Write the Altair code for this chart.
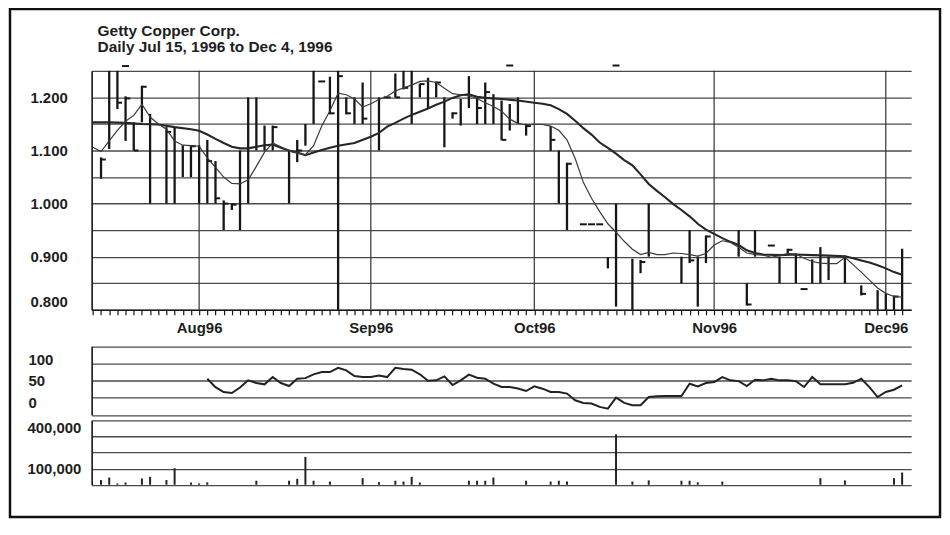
import altair as alt
import pandas as pd

# ---------------- calendar (trading days) ----------------
HOLIDAYS = ["1996-08-05", "1996-09-02", "1996-10-14"]
trading_days = [d for d in pd.bdate_range("1996-07-15", "1996-12-04")
                if d.strftime("%Y-%m-%d") not in HOLIDAYS]
N = len(trading_days)

month_start_idx = []
month_labels = []
for i, d in enumerate(trading_days):
    if i > 0 and d.month != trading_days[i - 1].month:
        month_start_idx.append(i)
        month_labels.append(d.strftime("%b%y"))

# ---------------- price bars (high / low / close) ----------------
bar_day = [1, 2, 3, 4, 5, 6, 7, 9, 10, 11, 12, 13, 14, 15, 16, 17, 18, 19, 20, 21,
           22, 24, 25, 26, 27, 29, 30, 31, 32, 33, 35, 37, 38, 39, 40, 41, 42, 43, 44, 45,
           46, 47, 48, 49, 50, 51, 52, 53, 56, 57, 58, 63, 64, 66, 67, 68, 72, 73, 74, 75,
           79, 80, 81, 84, 85, 86, 88, 89, 90, 92, 94, 96, 97, 98, 99]
bar_high = [1.087, 1.25, 1.25, 1.202, 1.153, 1.222, 1.169, 1.144, 1.144, 1.11, 1.11, 1.11, 1.12, 1.08, 1.006, 1.0, 1.10, 1.20, 1.20, 1.147,
            1.147, 1.10, 1.12, 1.15, 1.25, 1.239, 1.25, 1.20, 1.20, 1.228, 1.20, 1.245, 1.25, 1.25, 1.226, 1.237, 1.23, 1.20, 1.172, 1.197,
            1.24, 1.20, 1.228, 1.206, 1.194, 1.1875, 1.20, 1.15, 1.146, 1.10, 1.077, 0.899, 1.0, 0.896, 0.894, 1.0, 0.90, 0.95, 0.90, 0.94,
            0.95, 0.85, 0.95, 0.90, 0.915, 0.906, 0.895, 0.918, 0.90, 0.902, 0.846, 0.837, 0.83, 0.827, 0.915]
bar_low = [1.047, 1.103, 1.178, 1.118, 1.10, 1.153, 1.0, 1.0, 1.0, 1.05, 1.05, 1.0, 1.0, 1.0, 0.95, 0.988, 0.95, 1.0, 1.10, 1.10,
           1.10, 1.0, 1.078, 1.109, 1.15, 1.168, 0.80, 1.168, 1.15, 1.15, 1.10, 1.20, 1.215, 1.15, 1.20, 1.18, 1.20, 1.106, 1.16, 1.147,
           1.18, 1.15, 1.15, 1.15, 1.119, 1.1375, 1.15, 1.128, 1.099, 1.0, 0.95, 0.878, 0.806, 0.80, 0.869, 0.90, 0.85, 0.888, 0.806, 0.888,
           0.90, 0.808, 0.90, 0.85, 0.906, 0.85, 0.85, 0.85, 0.856, 0.85, 0.827, 0.80, 0.80, 0.80, 0.80]
bar_close = [1.083, None, 1.19, 1.198, 1.10, 1.22, None, 1.135, None, None, 1.108, None, 1.08, 1.01, 1.0, 0.998, None, None, None, None,
             1.144, None, 1.10, None, None, 1.17, 1.24, 1.17, None, 1.16, None, 1.20, 1.218, None, 1.225, None, 1.228, None, 1.17, None,
             None, 1.18, 1.21, None, 1.12, None, None, 1.146, 1.12, None, 1.075, None, None, None, 0.89, None, None, 0.893, None, 0.938,
             None, 0.81, None, None, 0.913, None, None, None, None, None, 0.83, None, None, 0.825, None]

# single-price days (drawn as a dash); the 1.26 ones sit just above the panel
flat_day = [4, 28, 36, 51, 60, 61, 62, 64, 83, 87]
flat_price = [1.259, 1.23, 1.20, 1.260, 0.961, 0.961, 0.961, 1.260, 0.921, 0.839]

# ---------------- moving averages ----------------
slow_day = [0, 2, 4, 6, 8, 10, 12, 13, 14, 15, 16, 17, 18, 19, 20, 21, 22, 23, 24, 25,
            26, 27, 28, 29, 30, 32, 34, 35, 36, 37, 38, 39, 40, 41, 42, 43, 44, 45, 46, 47,
            48, 50, 52, 54, 55, 56, 57, 58, 59, 60, 61, 62, 63, 64, 65, 66, 67, 68, 69, 70,
            71, 72, 73, 74, 75, 76, 77, 78, 79, 80, 81, 82, 84, 86, 88, 90, 92, 93, 94, 95,
            96, 97, 98, 99]
slow_val = [1.153, 1.153, 1.152, 1.150, 1.149, 1.144, 1.140, 1.137, 1.130, 1.122, 1.114, 1.107, 1.104, 1.104, 1.107, 1.110, 1.111, 1.105, 1.100, 1.096,
            1.091, 1.096, 1.101, 1.105, 1.109, 1.114, 1.126, 1.133, 1.145, 1.152, 1.160, 1.167, 1.173, 1.179, 1.186, 1.192, 1.199, 1.204, 1.206, 1.201,
            1.199, 1.197, 1.194, 1.190, 1.188, 1.185, 1.178, 1.169, 1.156, 1.142, 1.130, 1.115, 1.105, 1.094, 1.082, 1.072, 1.055, 1.037, 1.024, 1.012,
            0.999, 0.988, 0.976, 0.962, 0.951, 0.943, 0.935, 0.928, 0.922, 0.912, 0.907, 0.904, 0.903, 0.904, 0.903, 0.902, 0.901, 0.897, 0.893, 0.889,
            0.884, 0.878, 0.871, 0.866]

fast_day = list(range(100))
fast_val = [1.106, 1.098, 1.118, 1.138, 1.155, 1.166, 1.187, 1.163, 1.150, 1.140,
            1.118, 1.110, 1.109, 1.108, 1.086, 1.068, 1.050, 1.038, 1.037, 1.045,
            1.070, 1.097, 1.114, 1.107, 1.099, 1.095, 1.092, 1.109, 1.146, 1.175,
            1.208, 1.205, 1.197, 1.182, 1.188, 1.196, 1.202, 1.212, 1.218, 1.223,
            1.230, 1.231, 1.228, 1.217, 1.207, 1.205, 1.203, 1.198, 1.190, 1.183,
            1.174, 1.159, 1.151, 1.148, 1.149, 1.149, 1.146, 1.138, 1.120, 1.085,
            1.040, 1.010, 0.985, 0.962, 0.946, 0.929, 0.914, 0.904, 0.908, 0.904,
            0.904, 0.907, 0.906, 0.904, 0.901, 0.906, 0.922, 0.930, 0.927, 0.918,
            0.907, 0.904, 0.903, 0.899, 0.902, 0.906, 0.905, 0.897, 0.891, 0.888,
            0.887, 0.887, 0.899, 0.885, 0.871, 0.856, 0.841, 0.831, 0.825, 0.824]

# ---------------- oscillator ----------------
osc_day = list(range(14, 100))
osc_val = [54.6, 35, 23.7, 21.4, 34, 50.8, 44.6, 41.5, 58.5, 44.6,
           37.6, 54.6, 56, 64.7, 70, 70, 80, 74, 60.8, 58.5,
           58.5, 62, 58.5, 80, 77, 75.5, 65, 50, 50.8, 60,
           40, 50.8, 64, 57, 54.6, 43, 35.3, 35.3, 32, 26,
           36.9, 31.4, 23.7, 23.7, 20, 4.4, -1.8, -3.3, -11, -15,
           10.6, -1.8, -7.2, -7.2, 12, 13.7, 14.4, 14.4, 14.4, 43,
           36.9, 44.6, 47, 58.5, 50.8, 49, 37.6, 52.3, 50.8, 54.6,
           50.8, 50.8, 49, 35.3, 58.5, 41.5, 41.5, 41.5, 41.5, 45,
           54.6, 35, 12, 23.7, 29, 39]

# ---------------- volume ----------------
vol_day = [1, 2, 3, 4, 6, 7, 9, 10, 12, 13, 14, 20, 24, 25, 26, 27, 29, 33, 35, 37,
           38, 39, 40, 46, 47, 48, 49, 53, 56, 57, 58, 64, 66, 68, 72, 73, 74, 77, 89, 92,
           98, 99]
vol_val = [29000, 45000, 8000, 14000, 39000, 49000, 29000, 103000, 14000, 8000, 15000, 25000, 25000, 37000, 173000, 25000, 20000, 41000, 16000, 25000,
           20000, 49000, 14000, 25000, 25000, 25000, 45000, 25000, 20000, 25000, 20000, 313000, 20000, 27000, 25000, 25000, 15000, 20000, 41000, 27000,
           41000, 76000]

# ---------------- axis tick values ----------------
price_ticks = [0.80, 0.85, 0.90, 0.95, 1.00, 1.05, 1.10, 1.15, 1.20, 1.25]
osc_ticks = [-30, 0, 10, 50, 90, 100, 130]
osc_labels = [0, 50, 100]
vol_ticks = [0, 100000, 200000, 300000, 400000]
vol_labels = [100000, 400000]

TITLE_LINES = ["Getty Copper Corp.", "Daily Jul 15, 1996 to Dec 4, 1996"]

# ---------------- tables ----------------
bars_df = pd.DataFrame({"day": bar_day, "high": bar_high, "low": bar_low, "close": bar_close})
close_df = bars_df.dropna(subset=["close"])
flat_df = pd.DataFrame({"day": flat_day, "price": flat_price})
slow_df = pd.DataFrame({"day": slow_day, "ma": slow_val})
fast_df = pd.DataFrame({"day": fast_day, "ma": fast_val})
osc_df = pd.DataFrame({"day": osc_day, "osc": osc_val})
vol_df = pd.DataFrame({"day": vol_day, "vol": vol_val})
month_df = pd.DataFrame({"day": month_start_idx, "label": month_labels})

# ---------------- layout ----------------
W, H = 934, 510
X_DOMAIN = [-0.15, 100.1]
X_RANGE = [82, 905]
PRICE_RANGE = [302, 62]
OSC_RANGE = [407.7, 338.7]
VOL_RANGE = [477.7, 413]
FONT = "Liberation Sans"
INK = "#161616"
GRID = "#4a4a4a"

x_label_expr = " : ".join(
    f"datum.value == {d} ? '{lab}'" for d, lab in zip(month_start_idx, month_labels)
) + " : ''"

x_axis = alt.Axis(orient="bottom", offset=PRICE_RANGE[0] - H, values=list(range(N)),
                  grid=False, domainColor=INK, domainWidth=1.5,
                  tickColor=INK, tickWidth=1.2, tickSize=5,
                  labelExpr=x_label_expr, labelPadding=6, labelFlush=False,
                  labelOverlap=False, labelAlign="center", labelBaseline="top",
                  labelFont=FONT, labelFontSize=15, labelFontWeight="bold",
                  labelColor="#1e1e1e", title=None)
x_scale = alt.Scale(domain=X_DOMAIN, range=X_RANGE, nice=False, zero=False)
X = alt.X("day:Q", scale=x_scale, axis=x_axis)

price_scale = alt.Scale(domain=[price_ticks[0], price_ticks[-1]], range=PRICE_RANGE, nice=False, zero=False)
price_axis = alt.Axis(orient="left", offset=-X_RANGE[0], values=price_ticks, grid=True,
                      gridColor=GRID, gridWidth=1.3, domainColor=INK, domainWidth=1.6,
                      ticks=False, tickSize=0, labelAlign="left", labelPadding=62,
                      labelFlush=True,
                      labelExpr="round(datum.value * 100) % 10 == 0 ? format(datum.value, '.3f') : ''",
                      labelFont=FONT, labelFontSize=15, labelFontWeight="bold",
                      labelColor="#1e1e1e", title=None)


def Yp(field):
    return alt.Y(f"{field}:Q", scale=price_scale, axis=price_axis)


osc_scale = alt.Scale(domain=[osc_ticks[0], osc_ticks[-1]], range=OSC_RANGE, nice=False, zero=False)
osc_label_test = " || ".join(f"datum.value == {v}" for v in osc_labels)
osc_axis = alt.Axis(orient="left", offset=-X_RANGE[0], values=osc_ticks, grid=True,
                    gridColor=GRID, gridWidth=1.3,
                    gridOpacity={"condition": {"test": "datum.value == 0 || datum.value == 100", "value": 0}, "value": 1},
                    domainColor=INK, domainWidth=1.6, ticks=False, tickSize=0,
                    labelAlign="left", labelPadding=64, labelFlush=False,
                    labelExpr=f"({osc_label_test}) ? datum.label : ''",
                    labelFont=FONT, labelFontSize=15, labelFontWeight="bold",
                    labelColor="#1e1e1e", title=None)

vol_scale = alt.Scale(domain=[vol_ticks[0], vol_ticks[-1]], range=VOL_RANGE, nice=False, zero=False)
vol_label_test = " || ".join(f"datum.value == {v}" for v in vol_labels)
vol_axis = alt.Axis(orient="left", offset=-X_RANGE[0], values=vol_ticks, grid=True,
                    gridColor=GRID, gridWidth=1.3, domainColor=INK, domainWidth=1.6,
                    ticks=False, tickSize=0, labelAlign="left", labelPadding=65,
                    labelFlush=True,
                    labelExpr=f"({vol_label_test}) ? format(datum.value, ',') : ''",
                    labelFont=FONT, labelFontSize=15, labelFontWeight="bold",
                    labelColor="#1e1e1e", title=None)

# ---------------- layers ----------------
month_rules = alt.Chart(month_df).mark_rule(color="#333", strokeWidth=1.2).encode(
    x=X,
    y=alt.YDatum(price_ticks[0], type="quantitative", scale=price_scale, axis=price_axis),
    y2=alt.datum(price_ticks[-1]),
)
hl_bars = alt.Chart(bars_df).mark_rule(color=INK, strokeWidth=2.3).encode(
    x=X, y=Yp("high"), y2="low")
close_ticks = alt.Chart(close_df).mark_tick(orient="horizontal", size=4.5, thickness=2,
                                            xOffset=2.5, color=INK, opacity=1).encode(
    x=X, y=Yp("close"))
flat_ticks = alt.Chart(flat_df).mark_tick(orient="horizontal", size=7, thickness=2,
                                          color=INK, opacity=1).encode(
    x=X, y=Yp("price"))
slow_line = alt.Chart(slow_df).mark_line(color="#262626", strokeWidth=2.1).encode(
    x=X, y=Yp("ma"))
fast_line = alt.Chart(fast_df).mark_line(color="#3a3a3a", strokeWidth=1.2).encode(
    x=X, y=Yp("ma"))

price_panel = alt.layer(month_rules, hl_bars, close_ticks, flat_ticks, slow_line, fast_line)

osc_panel = alt.Chart(osc_df).mark_line(color="#222", strokeWidth=2).encode(
    x=X, y=alt.Y("osc:Q", scale=osc_scale, axis=osc_axis))

vol_panel = alt.Chart(vol_df).mark_rule(color="#222", strokeWidth=2).encode(
    x=X, y=alt.Y("vol:Q", scale=vol_scale, axis=vol_axis), y2=alt.datum(0))

chart = alt.layer(price_panel, osc_panel, vol_panel).resolve_scale(
    y="independent"
).properties(
    width=W, height=H,
    padding={"left": 2, "top": 0, "right": 2, "bottom": 2},
    title=alt.Title(text=TITLE_LINES, anchor="start", frame="group", orient="top",
                    offset=-47, dx=88, font=FONT, fontSize=15.5, fontWeight="bold",
                    color="#1e1e1e", lineHeight=16),
    background="white",
).configure_view(stroke="#111", strokeWidth=2.5)

chart.save("out.html", embed_options={"renderer": "svg", "actions": False})
